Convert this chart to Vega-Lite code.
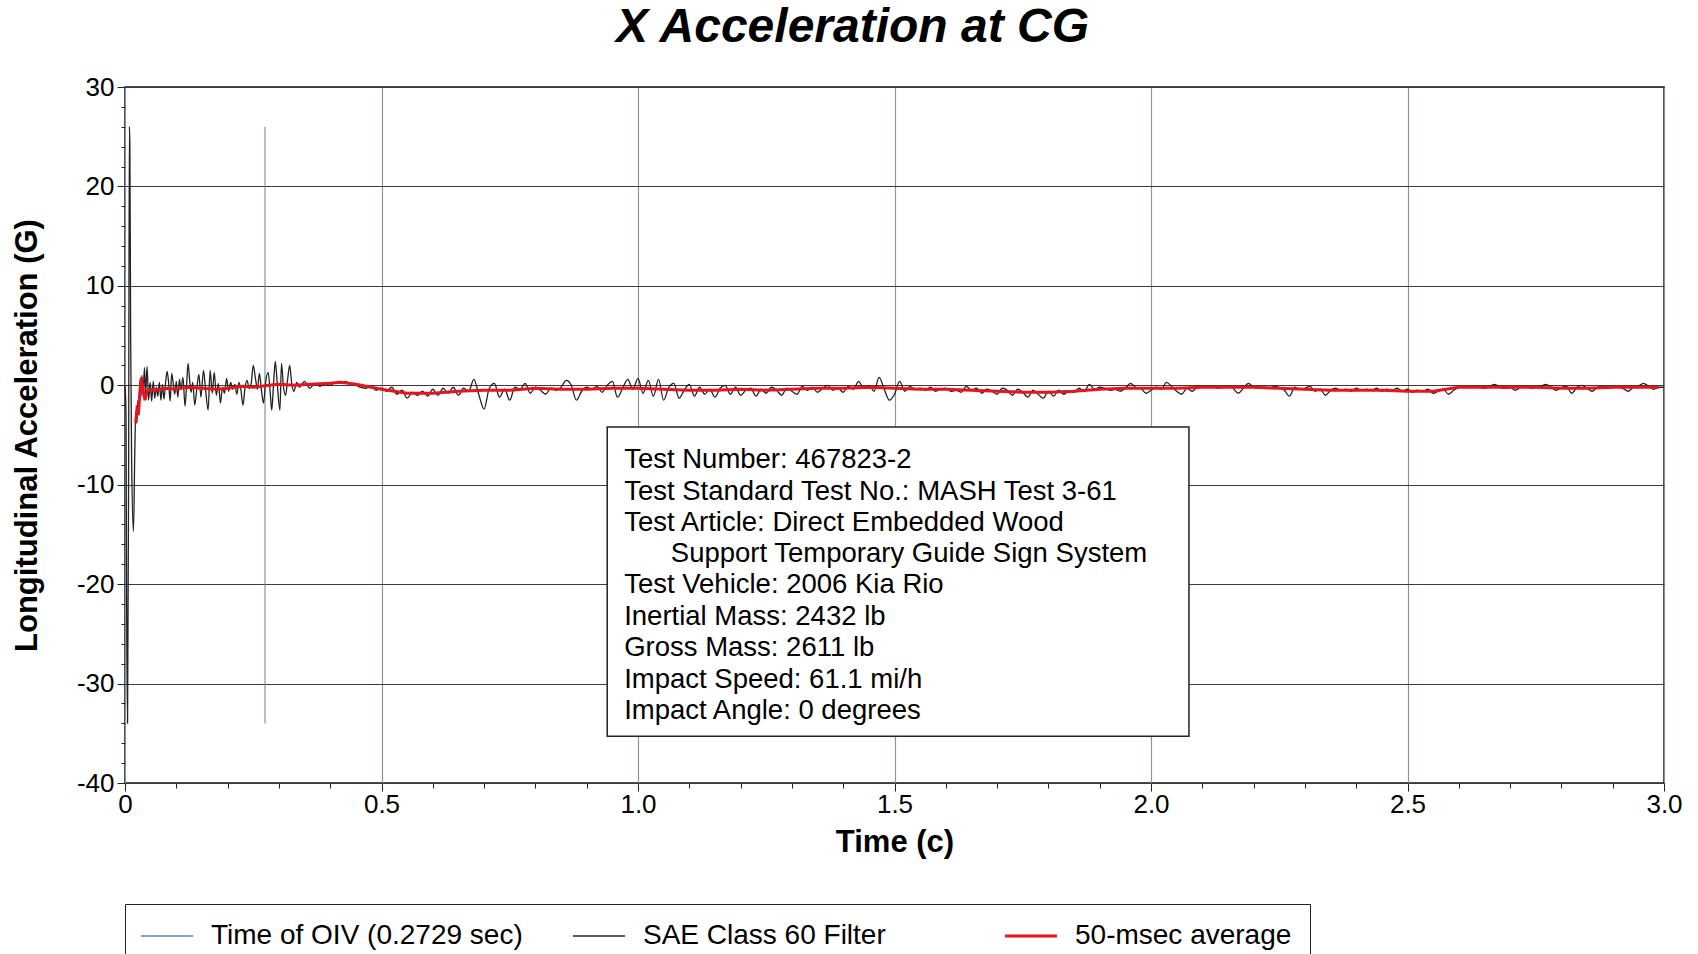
{
 "$schema": "https://vega.github.io/schema/vega-lite/v6.json",
 "width": 1539,
 "height": 696,
 "autosize": {"type": "none"},
 "padding": {"left": 125, "top": 87, "right": 34, "bottom": 171},
 "background": "white",
 "title": {"text": "X Acceleration at CG", "font": "Liberation Sans", "fontSize": 48, "fontStyle": "italic", "fontWeight": "bold", "color": "black", "anchor": "middle", "frame": "group", "dx": -42, "baseline": "bottom", "offset": -26},
 "config": {
  "view": {"stroke": "#111", "strokeWidth": 1.5},
  "axis": {"labelFont": "Liberation Sans", "labelFontSize": 26, "labelColor": "black", "titleFont": "Liberation Sans", "titleColor": "black", "tickColor": "#222"}
 },
 "datasets": {
  "black": [
   {"t":0,"a":0},{"t":0.002,"a":-3},{"t":0.003,"a":-20},{"t":0.005,"a":-34},{"t":0.007,"a":-10},{"t":0.0085,"a":26},{"t":0.0095,"a":24},{"t":0.011,"a":5},{"t":0.013,"a":-8},{"t":0.0165,"a":-14.7},
   {"t":0.019,"a":-7},{"t":0.021,"a":-2.6},{"t":0.023,"a":-3.8},{"t":0.025,"a":-1.5},{"t":0.027,"a":-2.0},{"t":0.029,"a":0.5},{"t":0.031,"a":-1.2},{"t":0.033,"a":1.0},{"t":0.035,"a":-1.0},{"t":0.038,"a":1.8},
   {"t":0.040,"a":-1.0},{"t":0.043,"a":1.9},{"t":0.046,"a":-1.5},{"t":0.049,"a":0.3},{"t":0.052,"a":-1.6},{"t":0.055,"a":0.4},{"t":0.058,"a":-1.3},{"t":0.061,"a":-0.2},{"t":0.064,"a":-1.1},{"t":0.067,"a":0.3},
   {"t":0.070,"a":-1.5},{"t":0.073,"a":0.1},{"t":0.076,"a":-1.4},{"t":0.079,"a":0.2},{"t":0.082,"a":1.4},{"t":0.085,"a":0.3},{"t":0.088,"a":-1.6},{"t":0.091,"a":1.2},{"t":0.094,"a":0.2},{"t":0.097,"a":-0.9},
   {"t":0.100,"a":0.4},{"t":0.103,"a":-1.2},{"t":0.106,"a":0.6},{"t":0.109,"a":-0.4},{"t":0.113,"a":0.8},{"t":0.117,"a":-2.1},{"t":0.120,"a":0.0},{"t":0.123,"a":2.2},{"t":0.126,"a":0.5},{"t":0.129,"a":-0.7},
   {"t":0.132,"a":0.3},{"t":0.136,"a":-2.0},{"t":0.140,"a":-0.3},{"t":0.144,"a":1.1},{"t":0.148,"a":-1.2},{"t":0.153,"a":1.5},{"t":0.157,"a":-0.4},{"t":0.162,"a":-2.5},{"t":0.166,"a":1.5},{"t":0.170,"a":-0.8},
   {"t":0.174,"a":1.3},{"t":0.178,"a":-1.0},{"t":0.182,"a":0.2},{"t":0.186,"a":-1.8},{"t":0.190,"a":-0.2},{"t":0.194,"a":-0.8},{"t":0.198,"a":0.7},{"t":0.202,"a":-0.6},{"t":0.206,"a":0.3},{"t":0.210,"a":-0.4},
   {"t":0.214,"a":0.1},{"t":0.218,"a":-0.9},{"t":0.222,"a":0.3},{"t":0.226,"a":-0.5},{"t":0.230,"a":-2.0},{"t":0.234,"a":-0.2},{"t":0.238,"a":0.5},{"t":0.242,"a":-0.3},{"t":0.246,"a":0.2},{"t":0.250,"a":2.0},
   {"t":0.254,"a":0.8},{"t":0.258,"a":-0.4},{"t":0.262,"a":1.2},{"t":0.266,"a":-0.5},{"t":0.270,"a":-1.8},{"t":0.274,"a":0.3},{"t":0.279,"a":1.3},{"t":0.283,"a":-0.7},{"t":0.286,"a":-2.5},{"t":0.290,"a":0.5},
   {"t":0.293,"a":2.4},{"t":0.297,"a":0.0},{"t":0.302,"a":-2.5},{"t":0.305,"a":2.2},{"t":0.309,"a":-0.2},{"t":0.313,"a":-1.0},{"t":0.317,"a":0.6},{"t":0.321,"a":2.0},{"t":0.325,"a":0.2},{"t":0.329,"a":-0.6},
   {"t":0.335,"a":0.3},{"t":0.34,"a":-0.2},{"t":0.35,"a":0.4},{"t":0.36,"a":-0.3},{"t":0.37,"a":0.2},{"t":0.38,"a":-0.1},{"t":0.39,"a":0.1},{"t":0.40,"a":0.0},{"t":0.41,"a":0.3},{"t":0.42,"a":0.2},
   {"t":0.43,"a":0.4},{"t":0.44,"a":0.1},{"t":0.45,"a":0.0},{"t":0.46,"a":-0.2},{"t":0.47,"a":-0.3},{"t":0.48,"a":-0.1},{"t":0.49,"a":-0.5},{"t":0.50,"a":-0.3},
   {"t":0.51,"a":-0.6},{"t":0.52,"a":-0.2},{"t":0.53,"a":-0.9},{"t":0.54,"a":-0.5},{"t":0.55,"a":-1.3},{"t":0.56,"a":-0.7},{"t":0.57,"a":-1.0},{"t":0.58,"a":-0.6},{"t":0.59,"a":-1.1},{"t":0.60,"a":-0.4},
   {"t":0.61,"a":-1.0},{"t":0.62,"a":-0.3},{"t":0.63,"a":-0.8},{"t":0.64,"a":-0.2},{"t":0.65,"a":-1.0},{"t":0.66,"a":-0.3},{"t":0.67,"a":-0.6},{"t":0.68,"a":0.6},{"t":0.69,"a":-1.0},{"t":0.70,"a":-2.4},
   {"t":0.71,"a":-0.3},{"t":0.72,"a":0.2},{"t":0.73,"a":-1.2},{"t":0.74,"a":-0.4},{"t":0.75,"a":-1.5},{"t":0.76,"a":-0.2},{"t":0.77,"a":-0.4},{"t":0.78,"a":0.2},{"t":0.79,"a":-0.8},{"t":0.80,"a":-0.2},
   {"t":0.81,"a":-0.5},{"t":0.82,"a":-0.9},{"t":0.83,"a":-0.3},{"t":0.84,"a":-0.5},{"t":0.85,"a":-0.2},{"t":0.86,"a":0.5},{"t":0.87,"a":0.0},{"t":0.88,"a":-1.5},{"t":0.89,"a":-0.6},{"t":0.90,"a":-0.2},
   {"t":0.91,"a":-0.4},{"t":0.92,"a":-0.1},{"t":0.93,"a":-0.7},{"t":0.94,"a":0.0},{"t":0.95,"a":0.4},{"t":0.96,"a":-1.2},{"t":0.97,"a":-0.3},{"t":0.98,"a":0.6},{"t":0.99,"a":-0.4},{"t":1.00,"a":0.7},
   {"t":1.01,"a":-0.8},{"t":1.02,"a":0.5},{"t":1.03,"a":-1.1},{"t":1.04,"a":0.6},{"t":1.05,"a":-1.5},{"t":1.06,"a":-0.2},{"t":1.07,"a":0.2},{"t":1.08,"a":-1.3},{"t":1.09,"a":-0.5},{"t":1.10,"a":0.1},
   {"t":1.11,"a":-1.1},{"t":1.12,"a":-0.2},{"t":1.13,"a":-0.9},{"t":1.14,"a":-0.4},{"t":1.15,"a":-1.2},{"t":1.16,"a":-0.3},{"t":1.17,"a":0.0},{"t":1.18,"a":-0.9},{"t":1.19,"a":-0.2},{"t":1.20,"a":-1.0},
   {"t":1.21,"a":-0.5},{"t":1.22,"a":-0.3},{"t":1.23,"a":-1.1},{"t":1.24,"a":-0.4},{"t":1.25,"a":-0.8},{"t":1.26,"a":-0.2},{"t":1.27,"a":-0.5},{"t":1.28,"a":-1.0},{"t":1.29,"a":-0.3},{"t":1.30,"a":-0.6},
   {"t":1.31,"a":-0.9},{"t":1.32,"a":-0.1},{"t":1.33,"a":-0.5},{"t":1.34,"a":-0.2},{"t":1.35,"a":-0.7},{"t":1.36,"a":-0.3},{"t":1.37,"a":0.0},{"t":1.38,"a":-0.5},{"t":1.39,"a":-0.3},{"t":1.40,"a":-0.7},
   {"t":1.41,"a":-0.1},{"t":1.42,"a":-0.4},{"t":1.43,"a":0.4},{"t":1.44,"a":-0.3},{"t":1.45,"a":0.0},{"t":1.46,"a":-0.6},{"t":1.47,"a":0.8},{"t":1.48,"a":-0.4},{"t":1.49,"a":-1.5},{"t":1.50,"a":-0.9},
   {"t":1.51,"a":0.4},{"t":1.52,"a":-0.6},{"t":1.53,"a":-0.1},{"t":1.54,"a":-0.4},{"t":1.55,"a":-0.3},{"t":1.56,"a":-0.5},{"t":1.57,"a":-0.2},{"t":1.58,"a":-0.6},{"t":1.59,"a":-0.4},{"t":1.60,"a":-0.3},
   {"t":1.61,"a":-0.6},{"t":1.62,"a":-0.5},{"t":1.63,"a":-0.7},{"t":1.64,"a":-0.1},{"t":1.65,"a":-0.5},{"t":1.66,"a":-0.3},{"t":1.67,"a":-0.8},{"t":1.68,"a":-0.4},{"t":1.69,"a":-0.6},{"t":1.70,"a":-0.9},
   {"t":1.71,"a":-0.3},{"t":1.72,"a":-0.5},{"t":1.73,"a":-1.0},{"t":1.74,"a":-0.4},{"t":1.75,"a":-0.7},{"t":1.76,"a":-1.2},{"t":1.77,"a":-0.5},{"t":1.78,"a":-0.9},{"t":1.79,"a":-1.3},{"t":1.80,"a":-0.6},
   {"t":1.81,"a":-1.1},{"t":1.82,"a":-0.5},{"t":1.83,"a":-0.9},{"t":1.84,"a":-0.6},{"t":1.85,"a":-0.7},{"t":1.86,"a":-0.3},{"t":1.87,"a":-0.6},{"t":1.88,"a":0.1},{"t":1.89,"a":-0.4},{"t":1.90,"a":-0.2},
   {"t":1.91,"a":-0.3},{"t":1.92,"a":-0.5},{"t":1.93,"a":-0.4},{"t":1.94,"a":-0.6},{"t":1.95,"a":-0.3},{"t":1.96,"a":0.2},{"t":1.97,"a":-0.2},{"t":1.98,"a":-0.3},{"t":1.99,"a":-0.8},{"t":2.00,"a":-0.5},
   {"t":2.01,"a":-0.2},{"t":2.02,"a":-0.4},{"t":2.03,"a":0.3},{"t":2.04,"a":-0.1},{"t":2.05,"a":-0.6},{"t":2.06,"a":-0.9},{"t":2.07,"a":-0.3},{"t":2.08,"a":-0.6},{"t":2.09,"a":-0.2},{"t":2.10,"a":-0.1},
   {"t":2.11,"a":-0.2},{"t":2.12,"a":-0.1},{"t":2.13,"a":-0.3},{"t":2.14,"a":-0.2},{"t":2.15,"a":-0.1},{"t":2.16,"a":-0.3},{"t":2.17,"a":-0.8},{"t":2.18,"a":-0.3},{"t":2.19,"a":0.2},{"t":2.20,"a":-0.2},
   {"t":2.21,"a":-0.3},{"t":2.22,"a":-0.2},{"t":2.23,"a":-0.3},{"t":2.24,"a":-0.1},{"t":2.25,"a":-0.2},{"t":2.26,"a":-0.5},{"t":2.27,"a":-1.1},{"t":2.28,"a":-0.2},{"t":2.29,"a":-0.4},{"t":2.30,"a":-0.3},
   {"t":2.31,"a":-0.1},{"t":2.32,"a":-0.6},{"t":2.33,"a":-0.4},{"t":2.34,"a":-1.0},{"t":2.35,"a":-0.5},{"t":2.36,"a":-0.3},{"t":2.37,"a":-0.5},{"t":2.38,"a":-0.4},{"t":2.39,"a":-0.6},{"t":2.40,"a":-0.3},
   {"t":2.41,"a":-0.5},{"t":2.42,"a":-0.4},{"t":2.43,"a":-0.5},{"t":2.44,"a":-0.3},{"t":2.45,"a":-0.6},{"t":2.46,"a":-0.4},{"t":2.47,"a":-0.5},{"t":2.48,"a":-0.3},{"t":2.49,"a":-0.6},{"t":2.50,"a":-0.4},
   {"t":2.51,"a":-0.7},{"t":2.52,"a":-0.5},{"t":2.53,"a":-0.6},{"t":2.54,"a":-0.4},{"t":2.55,"a":-0.8},{"t":2.56,"a":-0.6},{"t":2.57,"a":-0.4},{"t":2.58,"a":-0.9},{"t":2.59,"a":-0.5},{"t":2.60,"a":-0.2},
   {"t":2.61,"a":-0.1},{"t":2.62,"a":-0.2},{"t":2.63,"a":-0.1},{"t":2.64,"a":-0.2},{"t":2.65,"a":-0.3},{"t":2.66,"a":-0.1},{"t":2.67,"a":0.1},{"t":2.68,"a":-0.2},{"t":2.69,"a":-0.3},{"t":2.70,"a":-0.2},
   {"t":2.71,"a":-0.5},{"t":2.72,"a":-0.2},{"t":2.73,"a":-0.1},{"t":2.74,"a":-0.3},{"t":2.75,"a":-0.2},{"t":2.76,"a":-0.1},{"t":2.77,"a":0.1},{"t":2.78,"a":-0.2},{"t":2.79,"a":-0.5},{"t":2.80,"a":-0.2},
   {"t":2.81,"a":-0.1},{"t":2.82,"a":-0.8},{"t":2.83,"a":-0.2},{"t":2.84,"a":0.0},{"t":2.85,"a":-0.3},{"t":2.86,"a":-0.6},{"t":2.87,"a":-0.2},{"t":2.88,"a":-0.1},{"t":2.89,"a":-0.3},{"t":2.90,"a":-0.2},
   {"t":2.91,"a":-0.2},{"t":2.92,"a":-0.3},{"t":2.93,"a":-0.6},{"t":2.94,"a":-0.2},{"t":2.95,"a":-0.1},{"t":2.96,"a":0.2},{"t":2.97,"a":-0.1},{"t":2.98,"a":-0.4},{"t":2.99,"a":-0.2},{"t":3.00,"a":-0.2}
  ],
  "red": [
   {"t":0.021,"a":-3.8},{"t":0.024,"a":-2.0},{"t":0.026,"a":-3.0},{"t":0.029,"a":-0.8},{"t":0.032,"a":0.8},{"t":0.035,"a":-0.4},{"t":0.039,"a":-1.5},{"t":0.043,"a":-0.6},{"t":0.05,"a":-0.4},{"t":0.06,"a":-0.5},
   {"t":0.08,"a":-0.3},{"t":0.1,"a":-0.4},{"t":0.12,"a":-0.2},{"t":0.15,"a":-0.3},{"t":0.18,"a":-0.4},{"t":0.2,"a":-0.3},{"t":0.23,"a":-0.1},{"t":0.25,"a":-0.2},{"t":0.28,"a":0.0},{"t":0.3,"a":0.1},
   {"t":0.33,"a":0.0},{"t":0.36,"a":0.1},{"t":0.4,"a":0.2},{"t":0.42,"a":0.3},{"t":0.45,"a":0.1},{"t":0.48,"a":-0.2},{"t":0.5,"a":-0.4},{"t":0.55,"a":-0.8},{"t":0.6,"a":-0.8},{"t":0.65,"a":-0.6},
   {"t":0.7,"a":-0.5},{"t":0.75,"a":-0.5},{"t":0.8,"a":-0.3},{"t":0.85,"a":-0.4},{"t":0.9,"a":-0.4},{"t":0.95,"a":-0.3},{"t":1.0,"a":-0.3},{"t":1.05,"a":-0.4},{"t":1.1,"a":-0.5},{"t":1.15,"a":-0.5},
   {"t":1.2,"a":-0.4},{"t":1.25,"a":-0.5},{"t":1.3,"a":-0.4},{"t":1.35,"a":-0.3},{"t":1.4,"a":-0.3},{"t":1.45,"a":-0.2},{"t":1.5,"a":-0.3},{"t":1.55,"a":-0.4},{"t":1.6,"a":-0.4},{"t":1.65,"a":-0.5},
   {"t":1.7,"a":-0.6},{"t":1.75,"a":-0.7},{"t":1.8,"a":-0.7},{"t":1.85,"a":-0.6},{"t":1.9,"a":-0.4},{"t":1.95,"a":-0.3},{"t":2.0,"a":-0.3},{"t":2.05,"a":-0.3},{"t":2.1,"a":-0.2},{"t":2.15,"a":-0.2},
   {"t":2.2,"a":-0.2},{"t":2.25,"a":-0.3},{"t":2.3,"a":-0.4},{"t":2.35,"a":-0.5},{"t":2.4,"a":-0.5},{"t":2.45,"a":-0.5},{"t":2.5,"a":-0.6},{"t":2.55,"a":-0.6},{"t":2.6,"a":-0.2},{"t":2.65,"a":-0.2},
   {"t":2.7,"a":-0.2},{"t":2.75,"a":-0.2},{"t":2.8,"a":-0.3},{"t":2.85,"a":-0.3},{"t":2.9,"a":-0.2},{"t":2.95,"a":-0.2},{"t":2.99,"a":-0.2}
  ],
  "oiv": [{"t": 0.2729, "lo": -34, "hi": 26}],
  "box": [{"x1": 0.94, "x2": 2.074, "y1": -4.2, "y2": -35.3}],
  "info": [
   {"t": 0.973, "y": -7.54, "s": "Test Number:  467823-2"},
   {"t": 0.973, "y": -10.7, "s": "Test Standard Test No.:  MASH Test 3-61"},
   {"t": 0.973, "y": -13.85, "s": "Test Article:  Direct Embedded Wood"},
   {"t": 1.064, "y": -16.95, "s": "Support Temporary Guide Sign System"},
   {"t": 0.973, "y": -20.1, "s": "Test Vehicle:  2006 Kia Rio"},
   {"t": 0.973, "y": -23.3, "s": "Inertial Mass:  2432 lb"},
   {"t": 0.973, "y": -26.45, "s": "Gross Mass:  2611 lb"},
   {"t": 0.973, "y": -29.6, "s": "Impact Speed:  61.1 mi/h"},
   {"t": 0.973, "y": -32.75, "s": "Impact Angle:  0 degrees"}
  ]
 },
 "layer": [
  {
   "data": {"name": "box"},
   "mark": {"type": "rect", "fill": "white", "stroke": "#222", "strokeWidth": 1.5},
   "encoding": {
    "x": {"field": "x1", "type": "quantitative", "scale": {"domain": [0, 3], "nice": false, "zero": false}, "axis": null},
    "x2": {"field": "x2"},
    "y": {"field": "y1", "type": "quantitative", "scale": {"domain": [-40, 30], "nice": false, "zero": false}, "axis": null},
    "y2": {"field": "y2"}
   }
  },
  {
   "data": {"name": "oiv"},
   "mark": {"type": "rule", "strokeWidth": 1},
   "encoding": {
    "x": {"field": "t", "type": "quantitative", "axis": {"orient": "bottom", "values": [0.1,0.2,0.3,0.4,0.6,0.7,0.8,0.9,1.1,1.2,1.3,1.4,1.6,1.7,1.8,1.9,2.1,2.2,2.3,2.4,2.6,2.7,2.8,2.9], "labels": false, "grid": false, "domain": false, "tickSize": 5, "title": null}},
    "y": {"field": "lo", "type": "quantitative", "axis": {"orient": "left", "values": [-38,-36,-34,-32,-28,-26,-24,-22,-18,-16,-14,-12,-8,-6,-4,-2,2,4,6,8,12,14,16,18,22,24,26,28], "labels": false, "grid": false, "domain": false, "tickSize": 4, "title": null}},
    "y2": {"field": "hi"},
    "color": {"datum": "Time of OIV (0.2729 sec)", "type": "nominal"}
   }
  },
  {
   "data": {"name": "black"},
   "mark": {"type": "line", "strokeWidth": 1.3, "interpolate": "monotone"},
   "encoding": {
    "x": {"field": "t", "type": "quantitative", "title": "Time (c)", "axis": {"orient": "bottom", "values": [0, 0.5, 1, 1.5, 2, 2.5, 3], "labelExpr": "datum.value == 0 ? '0' : format(datum.value, '.1f')", "labelFlush": false, "labelOverlap": false, "grid": true, "gridColor": "#8a94a6", "gridWidth": 1.2, "domain": false, "tickSize": 8, "labelPadding": 0, "titleFontSize": 31, "titleFontWeight": "bold", "titlePadding": 10}},
    "y": {"field": "a", "type": "quantitative", "title": "Longitudinal Acceleration (G)", "axis": {"orient": "left", "values": [-40, -30, -20, -10, 0, 10, 20, 30], "labelExpr": "'' + datum.value", "grid": true, "gridColor": "#3c3c3c", "gridWidth": 1.2, "domain": false, "tickSize": 8, "labelPadding": 3, "labelOverlap": false, "titleFontSize": 31, "titleFontWeight": "bold", "titlePadding": 33}},
    "color": {"datum": "SAE Class 60 Filter", "type": "nominal"}
   }
  },
  {
   "data": {"name": "red"},
   "mark": {"type": "line", "strokeWidth": 3},
   "encoding": {
    "x": {"field": "t", "type": "quantitative", "axis": null},
    "y": {"field": "a", "type": "quantitative", "axis": null},
    "color": {
     "datum": "50-msec average",
     "type": "nominal",
     "scale": {"domain": ["Time of OIV (0.2729 sec)", "SAE Class 60 Filter", "50-msec average"], "range": ["#5b80b0", "#222222", "#e8141b"]},
     "legend": {
      "title": null, "orient": "none", "legendX": 0, "legendY": 817, "direction": "horizontal", "columns": 3, "gridAlign": "all", "columnPadding": 44,
      "symbolType": "stroke", "symbolSize": 2700, "symbolStrokeWidth": 2, "symbolOffset": 10, "labelFont": "Liberation Sans", "labelFontSize": 28, "labelColor": "black", "labelOffset": 30, "labelLimit": 500,
      "padding": 18, "strokeColor": "#222", "fillColor": "white",
      "encode": {"symbols": {"update": {"strokeWidth": {"signal": "datum.value == '50-msec average' ? 3 : 1.5"}, "stroke": {"signal": "datum.value == '50-msec average' ? '#e8141b' : (datum.value == 'SAE Class 60 Filter' ? '#666666' : '#7f9cc4')"}}}}
     }
    }
   }
  },
  {
   "data": {"name": "info"},
   "mark": {"type": "text", "align": "left", "baseline": "middle", "font": "Liberation Sans", "fontSize": 27.5, "color": "black"},
   "encoding": {
    "x": {"field": "t", "type": "quantitative", "axis": null},
    "y": {"field": "y", "type": "quantitative", "axis": null},
    "text": {"field": "s"}
   }
  }
 ],
 "resolve": {"axis": {"x": "independent", "y": "independent"}}
}
